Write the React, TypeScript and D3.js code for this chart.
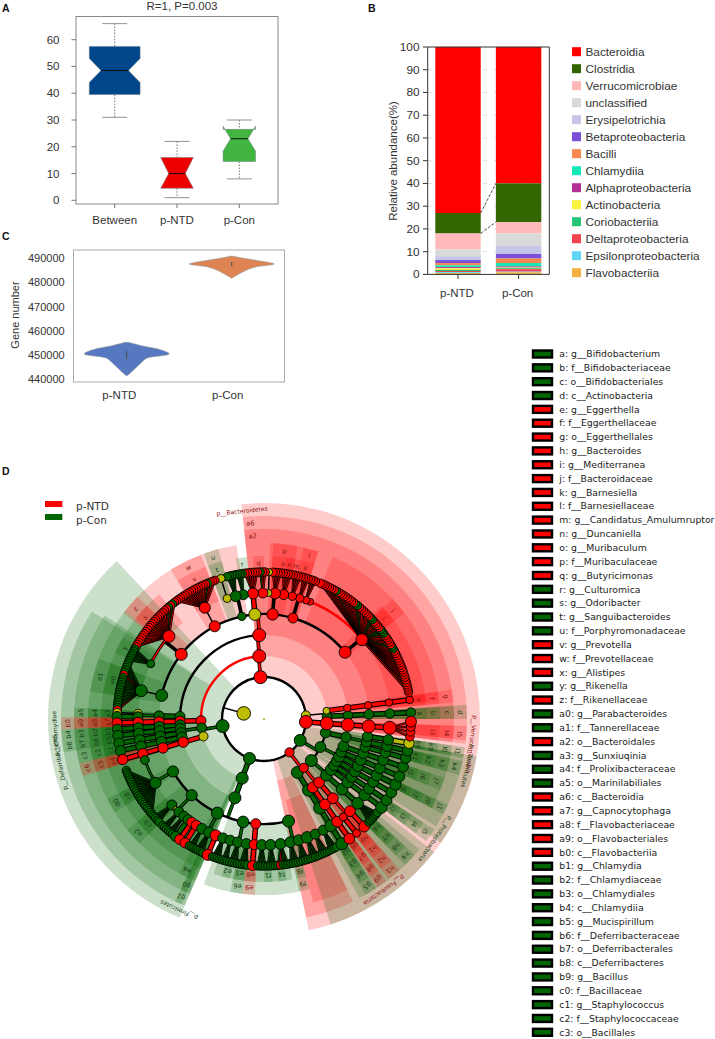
import * as d3 from "d3";
import React from "react";

// ---------- panel A ----------
const boxNames = ["Between", "p-NTD", "p-Con"];
const boxColors = ["#00468b", "#ed0000", "#42b540"];
// low whisker, q1, lower notch, median, upper notch, q3, high whisker
const boxBetween = [31, 39.5, 44, 48.5, 53, 57.5, 66];
const boxNtd = [1, 4.5, 4.5, 10, 16, 16, 22];
const boxCon = [8, 14.5, 18.4, 23, 27.7, 26.5, 30];
const boxTicks = [0, 10, 20, 30, 40, 50, 60];

// ---------- panel B ----------
const stackNames = ["Bacteroidia", "Clostridia", "Verrucomicrobiae", "unclassified", "Erysipelotrichia", "Betaproteobacteria", "Bacilli", "Chlamydiia", "Alphaproteobacteria", "Actinobacteria", "Coriobacteriia", "Deltaproteobacteria", "Epsilonproteobacteria", "Flavobacteriia"];
const stackColors = ["#ff0000", "#336600", "#ffb9b9", "#d9d9d9", "#c6c6e8", "#7b4fd8", "#f5874f", "#14e8b8", "#b52e95", "#f8f23c", "#25c477", "#f24350", "#5fd6f8", "#f2b040"];
const stackNtd = [73, 9, 7, 3, 1.7, 1.3, 1, 0.8, 0.5, 0.7, 0.5, 0.5, 0.4, 0.6];
const stackCon = [60, 17, 5, 5.5, 3.5, 2, 2, 1.5, 0.5, 0.3, 0.4, 1.1, 0.3, 0.9];
const stackGroups = ["p-NTD", "p-Con"];
const stackTicks = [0, 10, 20, 30, 40, 50, 60, 70, 80, 90, 100];

// ---------- panel C ----------
const geneTicks = [440000, 450000, 460000, 470000, 480000, 490000];
const violinGroups = ["p-NTD", "p-Con"];
const violinValuesNtd = [455200, 453800, 452000, 450400, 448600, 446500, 444400, 442400, 441200];
const violinWidthsNtd = [0.03, 0.35, 0.82, 1, 0.47, 0.33, 0.2, 0.08, 0];
const violinValuesCon = [490950, 490000, 488880, 487640, 486520, 485430, 483790, 482380, 481700];
const violinWidthsCon = [0, 0.28, 0.67, 1, 0.59, 0.39, 0.2, 0.06, 0];

// ---------- panel D legend ----------
const cladeNames = [
  "a: g__Bifidobacterium", "b: f__Bifidobacteriaceae", "c: o__Bifidobacteriales", "d: c__Actinobacteria", "e: g__Eggerthella", "f: f__Eggerthellaceae", "g: o__Eggerthellales", "h: g__Bacteroides", "i: g__Mediterranea", "j: f__Bacteroidaceae", "k: g__Barnesiella", "l: f__Barnesiellaceae", "m: g__Candidatus_Amulumruptor", "n: g__Duncaniella", "o: g__Muribaculum", "p: f__Muribaculaceae", "q: g__Butyricimonas", "r: g__Culturomica", "s: g__Odoribacter", "t: g__Sanguibacteroides", "u: f__Porphyromonadaceae", "v: g__Prevotella", "w: f__Prevotellaceae", "x: g__Alistipes", "y: g__Rikenella", "z: f__Rikenellaceae",
  "a0: g__Parabacteroides", "a1: f__Tannerellaceae", "a2: o__Bacteroidales", "a3: g__Sunxiuqinia", "a4: f__Prolixibacteraceae", "a5: o__Marinilabiliales", "a6: c__Bacteroidia", "a7: g__Capnocytophaga", "a8: f__Flavobacteriaceae", "a9: o__Flavobacteriales", "b0: c__Flavobacteriia", "b1: g__Chlamydia", "b2: f__Chlamydiaceae", "b3: o__Chlamydiales", "b4: c__Chlamydiia", "b5: g__Mucispirillum", "b6: f__Deferribacteraceae", "b7: o__Deferribacterales", "b8: c__Deferribacteres", "b9: g__Bacillus", "c0: f__Bacillaceae", "c1: g__Staphylococcus", "c2: f__Staphylococcaceae", "c3: o__Bacillales",
];
const cladeGroups = "GGGGRRRRRRRRRRRRRGGGGRRRGRGGRGGGRRRRRGGGGGGGGGGGGG";
const groupNames = ["p-NTD", "p-Con"];

// ---------- panel D cladogram ----------
type Clade = { c: string; s: number; w?: number; kids?: Clade[]; thin?: boolean; fan?: boolean; arc?: string };
const n = (c: string, s: number, kids: Clade[], opts: any = {}): Clade => ({ c, s, kids, ...opts });
const leaf = (c: string, s: number, w = 1, opts: any = {}): Clade => ({ c, s, w, ...opts });
const fan = (c: string, s: number, colors: string, opts: any = {}): Clade =>
  n(c, s, colors.split("").map((x) => leaf(x, 4.2)), { fan: true, ...opts });
const chain = (colors: string, s: number, w: number): Clade => {
  const head = colors[0];
  if (colors.length === 1) return leaf(head, s, w);
  return n(head, s, [chain(colors.slice(1), s, w)]);
};

const verruco = n("R", 6.5, [n("R", 6.5, [n("R", 6.5, [n("R", 6.5, [n("R", 6.5, [leaf("R", 5.5, 2), leaf("R", 4.6, 2), leaf("R", 4.4, 2), leaf("R", 4.2, 2)], { fan: true })])])])]);

const proteo = n("G", 6, [
  n("G", 5.2, [n("G", 5.2, [chain("GGY", 5.2, 3), chain("GGG", 5.2, 3), chain("GGG", 5.2, 3)])]),
  n("G", 5.4, [chain("GGGG", 5.4, 4), chain("GGGG", 5.4, 4), chain("GGGG", 5.6, 3), chain("GGGG", 5.4, 4), chain("GGGG", 5.4, 3)]),
  n("G", 6, [chain("GGGG", 5.8, 4), n("G", 5.8, [n("G", 5.8, [fan("G", 5.8, "GGGGGG")])])]),
]);

const fuso = n("R", 4.6, [
  n("R", 4.6, [
    n("R", 5.4, [n("R", 5.4, [chain("RR", 5.4, 4), chain("RR", 4, 4)])]),
    chain("RRRR", 5.4, 3),
  ]),
  chain("GGGGG", 6, 4),
]);

const clostridia = n("G", 6, [
  n("G", 6, [
    n("G", 6, [
      n("G", 6, [
        fan("G", 5, "GGGG"), fan("G", 5, "GGGG"), fan("G", 5.8, "GGGG"), fan("G", 5.4, "GGGG"), fan("G", 5.4, "GGGG"),
        fan("G", 5.4, "GGGRG"), fan("G", 5.4, "GGGG"), fan("G", 5.4, "GGGG"),
      ]),
      chain("RRR", 5, 3),
      n("G", 5.8, [fan("G", 5.2, "GGGG"), fan("G", 5.2, "GGGG"), fan("G", 5.2, "GGG")]),
      n("G", 6, [
        fan("G", 5.2, "GGGG"), chain("RR", 5.6, 3), fan("G", 5.2, "GGGG"), fan("G", 5.2, "GGG"), chain("RR", 5, 3), chain("RR", 5, 2), chain("GG", 5, 2),
      ]),
      n("G", 5.6, [fan("G", 5, "GGG"), fan("G", 5, "GGG"), chain("Y", 2.5, 1), fan("G", 5, "GGGG")]),
      n("G", 5.6, [fan("G", 5.6, "GGGGGGGGGGGGGGGGGGGGG"), chain("G", 4.4, 2)]),
    ]),
  ]),
]);

const firmiSide = n("G", 6.5, [
  n("Y", 4.6, [chain("RRRR", 5.2, 4)]),
  n("G", 5, [chain("GGGG", 5.2, 3), chain("GGGG", 5.2, 3), chain("GGGG", 5.2, 3), chain("GGGG", 5, 2)]),
]);

const bacteroidetes = n("R", 6.5, [
  chain("RRRRR", 5, 3),
  n("R", 6.5, [
    n("G", 5, [n("G", 5, [chain("GG", 5, 2), chain("YY", 4.2, 1)])]),
    n("R", 6.5, [
      n("G", 6, [fan("G", 6, "RGGGGGGGGGGGGGRGGGGG", { thin: true })], { thin: true }),
      n("R", 6, [
        fan("G", 4, "GGGGGG", { thin: true }),
        fan("R", 6, "RRRRRRRRRRRRRRRRRRRRGRGR", { thin: true }),
      ], { thin: true }),
      n("R", 5.5, [fan("R", 5.5, "RRRRRRRRRRRRRRGRRR", { thin: true })], { thin: true }),
      n("G", 4.2, [chain("YY", 4, 4), fan("G", 5.5, "GGGG"), fan("G", 5, "GGG")], { thin: true }),
      n("Y", 6, [fan("R", 5.5, "RRRRRR")], { thin: true }),
      n("R", 5.8, [fan("R", 5, "GRR"), chain("YY", 3.5, 2), fan("R", 5.5, "RRRR", { thin: true }), fan("R", 5, "RRRR", { thin: true })], { thin: true }),
      n("R", 5, [fan("R", 4.2, "RRRR"), fan("R", 4.2, "RRR"), fan("R", 3.8, "RRR")], { thin: true }),
      n("R", 6, [
        chain("R", 3.5, 1),
        fan("R", 6, "RRRRRRRGRRRRRRRRGGRRRRRRGGRRRRGGGRRRRRGGRRRRRRRRRRRRRRRRRR", { thin: true }),
      ], { thin: true, arc: "R" }),
    ]),
  ], {}),
], { arc: "R" });

const actino = n("Y", 4.5, [
  n("Y", 3.5, [chain("RRRR", 3.8, 5)]),
  chain("GGGGG", 4.8, 5),
]);

const cladeTree = n("Y", 6.8, [verruco, proteo, fuso, clostridia, firmiSide, bacteroidetes, actino]);
const treeRoot: Clade = n("Y", 1, [cladeTree]);

// group, level, from, to (degrees clockwise from the top), labels from this level inward
const levels = ["p", "c", "o", "f", "g"];
const wideSectors: [string, string, number, number][] = [
  ["R", "p", -6, 168], ["R", "c", -6, 96], ["R", "o", -6, 96], ["R", "f", 23, 84], ["R", "g", 46, 84],
  ["R", "f", -52, -9], ["R", "g", -52, -40], ["R", "f", 2, 18],
  ["R", "c", 154, 168], ["R", "o", 154, 165],
  ["G", "p", 100, 125], ["G", "p", 128, 162], ["G", "c", 100, 122], ["G", "c", 130, 152], ["G", "o", 100, 118],
  ["G", "p", 203, 317], ["G", "c", 203, 302], ["G", "o", 203, 303], ["G", "f", 203, 308], ["G", "g", 203, 307],
  ["G", "f", 168, 200], ["G", "g", 170, 198],
];
const strips: [string, number, number, string, string[]][] = [
  ["G", 270.5, 273.5, "o", ["a5", "a4", "a3"]],
  ["R", 267, 270.5, "c", ["b0", "a9", "a8", "a7"]],
  ["G", 264, 267, "c", ["b4", "b3", "b2", "b1"]],
  ["G", 260.5, 264, "c", ["b8", "b7", "b6", "b5"]],
  ["G", 256.5, 260.5, "o", ["c3", "c2", "c1"]],
  ["R", 252.5, 256.5, "o", ["c6", "c5", "c4"]],
  ["G", 238, 243, "f", ["d0", "c8"]],
  ["G", 225, 231, "f", ["e2", "c9"]],
  ["G", 205, 209, "f", ["e4"]],
  ["G", 204, 206, "c", ["g1", "g0"]],
  ["G", 279, 290, "f", ["a1", "a0"]],
  ["G", 294, 300, "g", ["y"]],
  ["R", -53, -46, "f", ["z", "x"]],
  ["R", -32, -21, "f", ["w", "v"]],
  ["G", -20, -15, "f", ["u", "t"]],
  ["G", -10, -6, "g", ["r"]],
  ["R", -4, 0, "g", ["q"]],
  ["R", 3, 11, "f", ["p", "o"]],
  ["R", 8, 11, "g", ["n"]],
  ["R", 11, 13, "g", ["m"]],
  ["R", 13, 18, "f", ["l", "k"]],
  ["R", 47, 53, "f", ["j", "i"]],
  ["R", 81, 85, "o", ["g", "f", "e"]],
  ["G", 86, 90, "c", ["d", "c", "b", "a"]],
  ["R", 92, 97, "c", ["l5", "l4", "l3"]],
  ["G", 98, 101, "c", ["l1", "l0", "k9", "k8"]],
  ["G", 102, 106, "c", ["k4", "k3", "k2", "k1"]],
  ["G", 108, 112, "o", ["j7", "j6", "j5"]],
  ["G", 115, 118, "c", ["j1", "j0", "i7", "i6"]],
  ["G", 123, 127, "c", ["i5", "i4", "i3", "i2"]],
  ["G", 132, 136, "c", ["h9", "h8", "h7", "h6"]],
  ["R", 138, 142, "c", ["h3", "h2", "h1", "h0"]],
  ["R", 143, 146, "c", ["g9", "g8", "g7", "g6"]],
  ["G", 146.5, 150, "c", ["g5", "g4", "g3", "g2"]],
  ["G", 165, 168.5, "f", ["f9", "f8"]],
  ["R", 183, 187, "f", ["e9", "e8"]],
  ["G", 187, 191, "f", ["e6", "e5"]],
  ["G", 172, 175, "g", ["f4"]],
  ["G", 177, 180, "g", ["f1"]],
  ["G", 192, 195, "g", ["e2"]],
];
const phylumNames: [string, number, string][] = [
  ["p__Bacteroidetes", -6, "R"], ["p__Verrucomicrobia", 97, "R"], ["p__Tenericutes", 103, "G"], ["p__Proteobacteria", 125, "G"],
  ["p__Fusobacteria", 145, "R"], ["p__Firmicutes", 204, "G"], ["p__Deferribacteres", 258, "G"], ["p__Chlamydiae", 266, "G"],
];

const innerR: any = { p: 42, c: 63, o: 84, f: 105, g: 126 };
const outerR: any = { p: 216, c: 203, o: 190, f: 176, g: 163 };
const textR: any = { p: 209, c: 196, o: 183, f: 169, g: 156 };
const tint: any = { R: "#ff0000", G: "#006400", Y: "#bcbc00" };
const labelTint: any = { R: "#8a1010", G: "#143c14" };
const rad = (a: number) => (a * Math.PI) / 180;
const sans = "'Liberation Sans', Arial, sans-serif";
const ink = "#333";

function BoxPanel() {
  const y = d3.scaleLinear().domain([0, 60]).range([200.3, 39.7]);
  const x = d3.scalePoint().domain(boxNames).range([114.7, 239.3]);
  const half = [25.4, 16.3, 16.2];
  const waist = [13.7, 8.3, 8.7];
  const all = [boxBetween, boxNtd, boxCon];
  return (
    <g fontFamily={sans} fontSize={11.5} fill={ink}>
      <rect x={76} y={16.5} width={202} height={187.5} fill="none" stroke="#888" strokeWidth={1} />
      <text x={182} y={10} textAnchor="middle">R=1, P=0.003</text>
      {boxTicks.map((t) => (
        <g key={t}>
          <line x1={71.5} x2={76} y1={y(t)} y2={y(t)} stroke="#777" />
          <text x={59.5} y={y(t) + 4} textAnchor="end" fontSize={11.5}>{t}</text>
        </g>
      ))}
      {boxNames.map((name, i) => {
        const cx = x(name) as number;
        const [lo, q1, nl, med, nu, q3, hi] = all[i];
        const h = half[i];
        const w = waist[i];
        const points = [
          [cx - h, y(q3)], [cx + h, y(q3)], [cx + h, y(nu)], [cx + w, y(med)], [cx + h, y(nl)], [cx + h, y(q1)],
          [cx - h, y(q1)], [cx - h, y(nl)], [cx - w, y(med)], [cx - h, y(nu)],
        ] as [number, number][];
        return (
          <g key={name}>
            <line x1={cx} x2={cx} y1={y(hi)} y2={y(q3)} stroke="#555" strokeDasharray="1.5,1.5" strokeWidth={0.8} />
            <line x1={cx} x2={cx} y1={y(q1)} y2={y(lo)} stroke="#555" strokeDasharray="1.5,1.5" strokeWidth={0.8} />
            <line x1={cx - 12.5} x2={cx + 12.5} y1={y(hi)} y2={y(hi)} stroke="#777" strokeWidth={0.8} />
            <line x1={cx - 12.5} x2={cx + 12.5} y1={y(lo)} y2={y(lo)} stroke="#777" strokeWidth={0.8} />
            <path d={(d3.line()(points) as string) + "Z"} fill={boxColors[i]} stroke="#6b7a80" strokeWidth={0.5} />
            <line x1={cx - w} x2={cx + w} y1={y(med)} y2={y(med)} stroke="#111" strokeWidth={1} />
            <line x1={cx} x2={cx} y1={204} y2={208} stroke="#777" />
            <text x={cx} y={224} textAnchor="middle" fontSize={11.5}>{name}</text>
          </g>
        );
      })}
    </g>
  );
}

function StackPanel() {
  const y = d3.scaleLinear().domain([0, 100]).range([274.4, 47]);
  const x = d3.scaleBand().domain(stackGroups).range([435.3, 541.3]).paddingInner(0.25).paddingOuter(0);
  // stacks run top to bottom, first category on top
  const columns = stackGroups.map((g, gi) => {
    const vals = gi === 0 ? stackNtd : stackCon;
    let top = 100;
    return vals.map((v, i) => {
      const seg = { y1: top, y0: top - v, color: stackColors[i] };
      top -= v;
      return seg;
    });
  });
  const bw = x.bandwidth();
  const x0 = x("p-NTD") as number;
  const x1 = x("p-Con") as number;
  return (
    <g fontFamily={sans} fontSize={11.8} fill={ink}>
      {stackTicks.slice(1, -1).map((t) => (
        <line key={t} x1={428} x2={549} y1={y(t)} y2={y(t)} stroke="#ddd" strokeDasharray="4,7" />
      ))}
      {stackGroups.map((g, gi) => (
        <g key={g}>
          {columns[gi].map((s, i) => (
            <rect key={i} x={x(g)} width={bw} y={y(s.y1)} height={y(s.y0) - y(s.y1)} fill={s.color} />
          ))}
          <line x1={(x(g) as number) + bw / 2} x2={(x(g) as number) + bw / 2} y1={274.4} y2={279} stroke="#333" />
          <text x={(x(g) as number) + bw / 2 - 1} y={297} textAnchor="middle" fontSize={11.5}>{g}</text>
        </g>
      ))}
      <line x1={x0 + bw} x2={x1} y1={y(27)} y2={y(40)} stroke="#222" strokeDasharray="3,1.5" strokeWidth={0.8} />
      <line x1={x0 + bw} x2={x1} y1={y(18)} y2={y(23)} stroke="#222" strokeDasharray="3,1.5" strokeWidth={0.8} />
      <path d="M427.7,47V274.4H549.3V47" fill="none" stroke="#333" strokeWidth={1} />
      <line x1={427.7} x2={549.3} y1={47} y2={47} stroke="#333" strokeWidth={1} />
      {stackTicks.map((t) => (
        <g key={t}>
          <line x1={423} x2={427.7} y1={y(t)} y2={y(t)} stroke="#333" />
          <text x={419.5} y={y(t) + 4} textAnchor="end">{t}</text>
        </g>
      ))}
      <text transform="translate(397,161) rotate(-90)" textAnchor="middle" fontSize={11.5}>Relative abundance(%)</text>
      {stackNames.map((name, i) => (
        <g key={name}>
          <rect x={572} y={47.2 + i * 17} width={9} height={9} fill={stackColors[i]} />
          <text x={585.5} y={55.7 + i * 17}>{name}</text>
        </g>
      ))}
    </g>
  );
}

function ViolinPanel() {
  const y = d3.scaleLinear().domain([440000, 490000]).range([379, 258.3]);
  const centers = [126.7, 231.7];
  const labels = [119.3, 227.7];
  const shapes = [
    { v: violinValuesNtd, w: violinWidthsNtd, color: "#5578c0" },
    { v: violinValuesCon, w: violinWidthsCon, color: "#dd8452" },
  ];
  return (
    <g fontFamily={sans} fontSize={11} fill={ink}>
      <rect x={73.5} y={250} width={211} height={132} fill="none" stroke="#aaa" strokeWidth={1} />
      {geneTicks.map((t) => (
        <text key={t} x={64.7} y={y(t) + 4} textAnchor="end">{t}</text>
      ))}
      {shapes.map((s, i) => {
        const area = d3.area<number>()
          .y((_, j) => y(s.v[j]))
          .x0((w) => centers[i] - w * 42.5)
          .x1((w) => centers[i] + w * 42.5)
          .curve(d3.curveCatmullRom);
        return (
          <g key={i}>
            <path d={area(s.w) as string} fill={s.color} stroke="#999" strokeWidth={0.6} />
            <line x1={centers[i]} x2={centers[i]} y1={i === 0 ? 351 : 262} y2={i === 0 ? 359 : 266} stroke="#555" strokeWidth={1.2} />
            <text x={labels[i]} y={399} textAnchor="middle" fontSize={11.5}>{violinGroups[i]}</text>
          </g>
        );
      })}
      <text transform="translate(18.5,315) rotate(-90)" textAnchor="middle">Gene number</text>
    </g>
  );
}

function Cladogram() {
  const root = d3.hierarchy<Clade>(treeRoot, (d) => d.kids);
  const total = d3.sum(root.leaves(), (d) => d.data.w || 1);
  const angle = d3.scaleLinear().domain([0, total]).range([90, 450]);
  const radius = d3.scaleLinear().domain([0, 7]).range([0, 147]);
  let slot = 0;
  const at = new Map<any, number>();
  root.leaves().forEach((l) => {
    const w = l.data.w || 1;
    at.set(l, angle(slot + w / 2));
    slot += w;
  });
  root.eachAfter((d) => {
    if (d.children) at.set(d, d3.mean(d.leaves(), (l) => at.get(l)) as number);
  });
  const pos = (a: number, r: number) => d3.pointRadial(rad(a), r) as [number, number];
  const nodes = root.descendants().filter((d) => d.depth > 0);

  const links: React.ReactNode[] = [];
  root.descendants().forEach((p, pi) => {
    if (!p.children || p.depth === 0) return;
    const ap = at.get(p) as number;
    const rp = radius(p.depth);
    const rk = radius(p.depth + 1);
    if (p.data.fan) {
      p.children.forEach((k, i) => {
        const [x1, y1] = pos(ap, rp);
        const [x2, y2] = pos(at.get(k) as number, rk);
        links.push(<line key={`f${pi}-${i}`} x1={x1} y1={y1} x2={x2} y2={y2} stroke="#000" strokeWidth={2.2} />);
        links.push(<line key={`g${pi}-${i}`} x1={x1} y1={y1} x2={x2} y2={y2} stroke={tint[k.data.c]} strokeWidth={0.7} />);
      });
      return;
    }
    if (p.children.length === 1) {
      const k = p.children[0];
      const [x1, y1] = pos(ap, rp);
      const [x2, y2] = pos(at.get(k) as number, rk);
      const thin = k.data.thin || p.data.c === "Y" && k.data.c === "Y";
      links.push(<line key={`s${pi}`} x1={x1} y1={y1} x2={x2} y2={y2} stroke="#000" strokeWidth={thin ? 1.5 : 5.6} />);
      if (!thin) links.push(<line key={`t${pi}`} x1={x1} y1={y1} x2={x2} y2={y2} stroke={tint[k.data.c]} strokeWidth={3.4} />);
      return;
    }
    const angles = p.children.map((k) => at.get(k) as number);
    const a0 = Math.min(ap, ...angles);
    const a1 = Math.max(ap, ...angles);
    const path = d3.path();
    path.arc(0, 0, rk, rad(a0 - 90), rad(a1 - 90));
    const [x1, y1] = pos(ap, rp);
    const [x2, y2] = pos(ap, rk);
    const colored = p.depth === 1 ? false : p.data.c !== "Y";
    links.push(<line key={`h${pi}`} x1={x1} y1={y1} x2={x2} y2={y2} stroke="#000" strokeWidth={colored ? 3.6 : 1.5} />);
    if (colored && !p.data.thin) links.push(<line key={`i${pi}`} x1={x1} y1={y1} x2={x2} y2={y2} stroke={tint[p.data.c]} strokeWidth={2} />);
    links.push(<path key={`a${pi}`} d={path.toString()} fill="none" stroke={p.data.arc ? tint[p.data.arc] : "#000"} strokeWidth={p.depth < 5 ? 2.4 : p.data.arc ? 2.6 : 3} />);
    if (p.depth >= 5 && !p.data.arc && p.data.c !== "Y") links.push(<path key={`b${pi}`} d={path.toString()} fill="none" stroke={tint[p.data.c]} strokeWidth={1.4} />);
  });

  const sectorPath = (level: string, a0: number, a1: number) =>
    d3.arc()({ innerRadius: innerR[level], outerRadius: outerR[level], startAngle: rad(a0), endAngle: rad(a1) }) as string;

  return (
    <g transform="translate(264,719)">
      {wideSectors.map(([c, level, a0, a1], i) => (
        <path key={i} d={sectorPath(level, a0, a1)} fill={tint[c]} fillOpacity={0.2} />
      ))}
      {strips.map(([c, a0, a1, start, labels], i) =>
        labels.map((lab, j) => (
          <path key={`${i}-${j}`} d={sectorPath(levels[levels.indexOf(start) + j], a0, a1)} fill={tint[c]} fillOpacity={0.2} />
        ))
      )}
      {links}
      {[...nodes].reverse().map((d, i) => {
        const [cx, cy] = pos(at.get(d) as number, radius(d.depth));
        return <circle key={i} cx={cx} cy={cy} r={d.data.s} fill={tint[d.data.c]} stroke="#000" strokeWidth={0.9} />;
      })}
      <circle r={1.1} fill="#a8a830" />
      <g fontFamily="'DejaVu Sans', sans-serif" fontSize={6.6} textAnchor="middle">
        {strips.map(([c, a0, a1, start, labels], i) =>
          labels.map((lab, j) => (
            <text key={`${i}-${j}`} transform={`rotate(${(a0 + a1) / 2}) translate(0,${-textR[levels[levels.indexOf(start) + j]]})`} dy={2} fill={labelTint[c]}>{lab}</text>
          ))
        )}
        <text transform={`rotate(-4) translate(0,${-textR.c})`} dy={2} fill={labelTint.R}>a6</text>
        <text transform={`rotate(-3.5) translate(0,${-textR.o})`} dy={2} fill={labelTint.R}>a2</text>
        {phylumNames.map(([name, a, c]) => (
          <text key={name} transform={`rotate(${a}) translate(0,${-textR.p})`} dy={2} fontSize={6} fill={labelTint[c]}>{name}</text>
        ))}
      </g>
    </g>
  );
}

function CladeLegend() {
  const y = d3.scaleLinear().domain([0, cladeNames.length - 1]).range([354, 1032.3]);
  return (
    <g fontFamily="'DejaVu Sans', sans-serif" fontSize={9.3} fill="#222">
      {cladeNames.map((name, i) => (
        <g key={name}>
          <rect x={533} y={y(i) - 3.5} width={19} height={7} fill={tint[cladeGroups[i]]} stroke="#000" strokeWidth={2.4} />
          <text x={559.3} y={y(i) + 3.2}>{name}</text>
        </g>
      ))}
      {groupNames.map((name, i) => (
        <g key={name} fontSize={10.5} fill={ink}>
          <rect x={45} y={501 + i * 13} width={17.3} height={6} fill={tint[i === 0 ? "R" : "G"]} />
          <text x={76} y={509.5 + i * 14.5}>{name}</text>
        </g>
      ))}
    </g>
  );
}

export default function App() {
  return (
    <svg width={715} height={1039} style={{ position: "absolute", left: 0, top: 0, background: "#fff" }}>
      <g fontFamily={sans} fontSize={10.5} fontWeight={700} fill="#111">
        <text x={2} y={12}>A</text>
        <text x={368} y={12}>B</text>
        <text x={2} y={240}>C</text>
        <text x={2} y={475}>D</text>
      </g>
      <BoxPanel />
      <StackPanel />
      <ViolinPanel />
      <Cladogram />
      <CladeLegend />
    </svg>
  );
}
